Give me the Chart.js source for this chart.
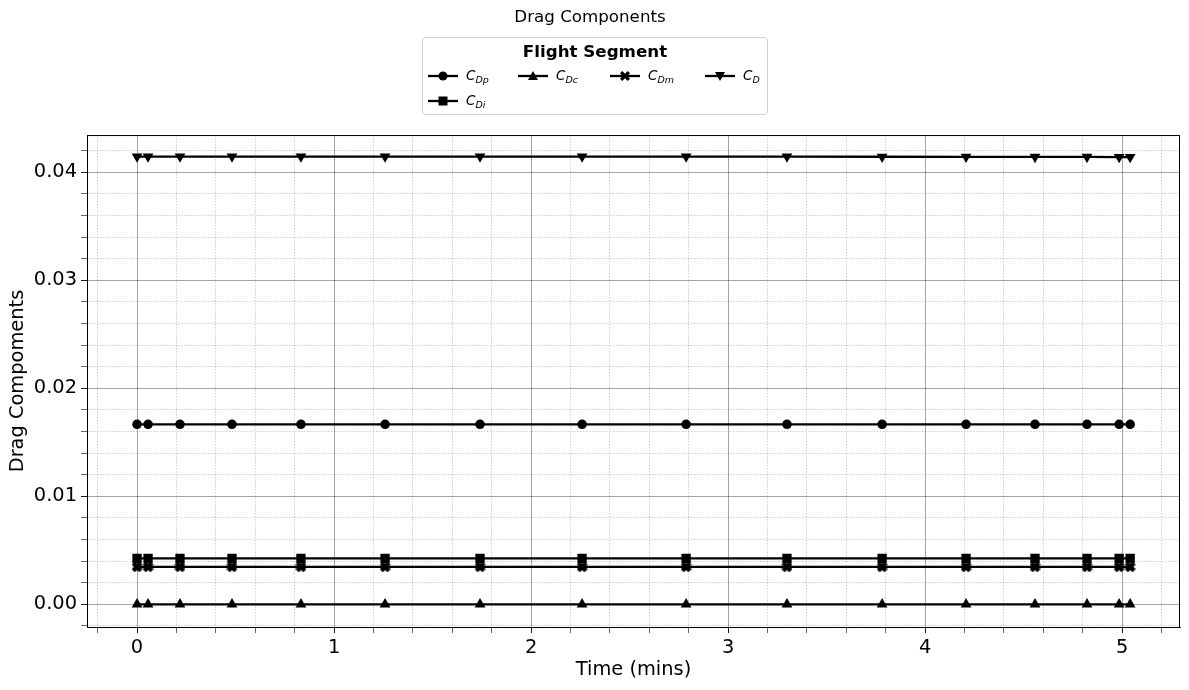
<!DOCTYPE html>
<html>
<head>
<meta charset="utf-8">
<title>Drag Components</title>
<script src="https://cdn.jsdelivr.net/npm/chart.js@4/dist/chart.umd.min.js"></script>
<style>
  body { margin:0; background:#fff; }
  #wrap { position:relative; width:1189px; height:690px; }
  #legendBox {
    position:absolute; left:422px; top:37px; width:344px; height:76px;
    border:1px solid #d0d0d0; border-radius:4px; background:rgba(255,255,255,.8);
    font-family:'DejaVu Sans', sans-serif; color:#000;
  }
  #legendBox .ttl { position:absolute; left:0; right:0; top:3px; text-align:center; font-weight:bold; font-size:16.7px; }
  #legendBox .item { position:absolute; display:flex; align-items:center; font-size:13.5px; }
  #legendBox .item svg { margin-right:8px; }
  #legendBox sub { font-size:9.5px; vertical-align:-3px; }
</style>
</head>
<body>
<div id="wrap">
  <canvas id="dragChart" width="1189" height="690"></canvas>
  <div id="legendBox"><div class="ttl">Flight Segment</div></div>
</div>
<script>
// time nodes of the segment (mins)
const times = [0, 0.056, 0.218, 0.482, 0.832, 1.259, 1.741, 2.259, 2.787, 3.299, 3.782, 4.208, 4.558, 4.822, 4.985, 5.041];

const cdp = [0.01667,0.01667,0.01667,0.01667,0.01667,0.01667,0.01667,0.01667,0.01667,0.01667,0.01667,0.01667,0.01667,0.01667,0.01667,0.01667];
const cdi = [0.00425,0.00425,0.00425,0.00425,0.00425,0.00425,0.00425,0.00425,0.00425,0.00425,0.00425,0.00425,0.00425,0.00425,0.00425,0.00425];
const cdc = [0,0,0,0,0,0,0,0,0,0,0,0,0,0,0,0];
const cdm = [0.00347,0.00347,0.00347,0.00347,0.00347,0.00347,0.00347,0.00347,0.00347,0.00347,0.00347,0.00347,0.00347,0.00347,0.00347,0.00347];
const cd  = [0.04146,0.04146,0.04146,0.04146,0.04146,0.04146,0.04146,0.04146,0.04145,0.04145,0.04144,0.04143,0.04142,0.04142,0.04141,0.04141];

const seriesNames = ['Dp','Di','Dc','Dm','D'];
const seriesData  = [cdp, cdi, cdc, cdm, cd];
const markers     = ['circle','rect','triangle','xfill','tridown'];

const xTicksMajor = [0,1,2,3,4,5];
const yTicksMajor = ['0.00','0.01','0.02','0.03','0.04'];

// filled "X" marker like matplotlib 'X'
function xMarker(size) {
  const c = document.createElement('canvas');
  c.width = size; c.height = size;
  const g = c.getContext('2d');
  const s = size/2, w = size*0.2;
  g.translate(s, s);
  g.rotate(Math.PI/4);
  g.fillStyle = '#000';
  g.fillRect(-s, -w, size, 2*w);
  g.fillRect(-w, -s, 2*w, size);
  return c;
}
const xImg = xMarker(11);

function pointOpts(m) {
  if (m === 'circle')   return { pointStyle:'circle', pointRadius:4.8 };
  if (m === 'rect')     return { pointStyle:'rect', pointRadius:6.6 };
  if (m === 'triangle') return { pointStyle:'triangle', pointRadius:6.2 };
  if (m === 'tridown')  return { pointStyle:'triangle', pointRadius:6.2, pointRotation:180 };
  return { pointStyle:xImg, pointRadius:5 };
}

const datasets = seriesData.map((arr, i) => Object.assign({
  label: 'C' + seriesNames[i],
  data: times.map((t, k) => ({ x:t, y:arr[k] })),
  borderColor:'#000', backgroundColor:'#000', borderWidth:2.3,
  pointBorderWidth:0, pointHoverRadius:5, order: seriesData.length - i
}, pointOpts(markers[i])));

const frame = {
  id:'frame',
  afterDraw(chart) {
    const {ctx, chartArea:a} = chart;
    ctx.save();
    ctx.strokeStyle = '#000'; ctx.lineWidth = 1;
    ctx.strokeRect(a.left + .5, a.top + .5, a.right - a.left - 1, a.bottom - a.top);
    ctx.restore();
  }
};

const font = { family:"'DejaVu Sans', sans-serif", size:19.4 };

new Chart(document.getElementById('dragChart'), {
  type:'line',
  data:{ datasets },
  options:{
    responsive:false, animation:false,
    layout:{ padding:{ left:0, right:9, top:0, bottom:0 } },
    plugins:{
      legend:{ display:false }, tooltip:{ enabled:false },
      title:{ display:true, text:'Drag Components', color:'#000',
        font:{ family:"'DejaVu Sans', sans-serif", size:16.7, weight:'normal' },
        padding:{ top:8, bottom:107 } }
    },
    scales:{
      x:{
        type:'linear', min:-0.254, max:5.294,
        afterBuildTicks: s => { const t=[]; for (let k=-1;k<=26;k++) t.push({ value:k*0.2 }); s.ticks = t; },
        afterFit: s => { s.height = 63; },
        ticks:{ autoSkip:false, maxRotation:0, color:'#000', font, padding:3,
          callback: v => { const r = Math.round(v); return (Math.abs(v - r) < 1e-6 && xTicksMajor.includes(r)) ? String(r) : ''; } },
        grid:{ color: c => isMajor(c.tick.value, 1) ? 'rgba(0,0,0,0.4)' : 'rgba(0,0,0,0.32)',
          lineWidth: c => isMajor(c.tick.value, 1) ? 0.9 : 0.6,
          tickColor:'#000', tickLength:6 },
        border:{ display:true, color:'#000', width:1,
          dash: c => (c.tick && isMajor(c.tick.value, 1)) ? [] : [1.5, 1.5] },
        title:{ display:true, text:'Time (mins)', color:'#000', font, padding:{ top:0, bottom:8.4 } }
      },
      y:{
        type:'linear', min:-0.0021, max:0.04345,
        afterBuildTicks: s => { const t=[]; for (let k=-1;k<=21;k++) t.push({ value:k*0.002 }); s.ticks = t; },
        afterFit: s => { s.width = 87; },
        ticks:{ autoSkip:false, color:'#000', font, padding:4,
          callback: v => { const k = Math.round(v/0.01); return isMajor(v, 0.01) ? yTicksMajor[k] : ''; } },
        grid:{ color: c => isMajor(c.tick.value, 0.01) ? 'rgba(0,0,0,0.4)' : 'rgba(0,0,0,0.32)',
          lineWidth: c => isMajor(c.tick.value, 0.01) ? 0.9 : 0.6,
          tickColor:'#000', tickLength:6 },
        border:{ display:true, color:'#000', width:1,
          dash: c => (c.tick && isMajor(c.tick.value, 0.01)) ? [] : [1.5, 1.5] },
        title:{ display:true, text:'Drag Compoments', color:'#000', font, padding:{ top:6.4, bottom:0 } }
      }
    }
  },
  plugins:[frame]
});

function isMajor(v, step) {
  const q = v / step;
  return Math.abs(q - Math.round(q)) < 1e-6;
}

// legend (html so the subscripts stay real text)
function markerSvg(m) {
  let shape = '';
  if (m === 'circle')   shape = '<circle cx="15" cy="7" r="4.5"/>';
  if (m === 'rect')     shape = '<rect x="10.5" y="2.5" width="9" height="9"/>';
  if (m === 'triangle') shape = '<polygon points="15,2 20,11 10,11"/>';
  if (m === 'tridown')  shape = '<polygon points="15,12 20,3 10,3"/>';
  if (m === 'xfill')    shape = '<g transform="rotate(45 15 7)"><rect x="9.5" y="5.4" width="11" height="3.2"/><rect x="13.4" y="1.5" width="3.2" height="11"/></g>';
  return '<svg width="30" height="14" viewBox="0 0 30 14"><line x1="0" y1="7" x2="30" y2="7" stroke="#000" stroke-width="2.3"/><g fill="#000">' + shape + '</g></svg>';
}
const legendPos = [[5,29],[5,54],[95,29],[187,29],[282,29]];
const box = document.getElementById('legendBox');
seriesNames.forEach((n, i) => {
  const d = document.createElement('div');
  d.className = 'item';
  d.style.left = legendPos[i][0] + 'px';
  d.style.top = legendPos[i][1] + 'px';
  d.innerHTML = markerSvg(markers[i]) + '<i>C<sub>' + n + '</sub></i>';
  box.appendChild(d);
});
</script>
</body>
</html>
